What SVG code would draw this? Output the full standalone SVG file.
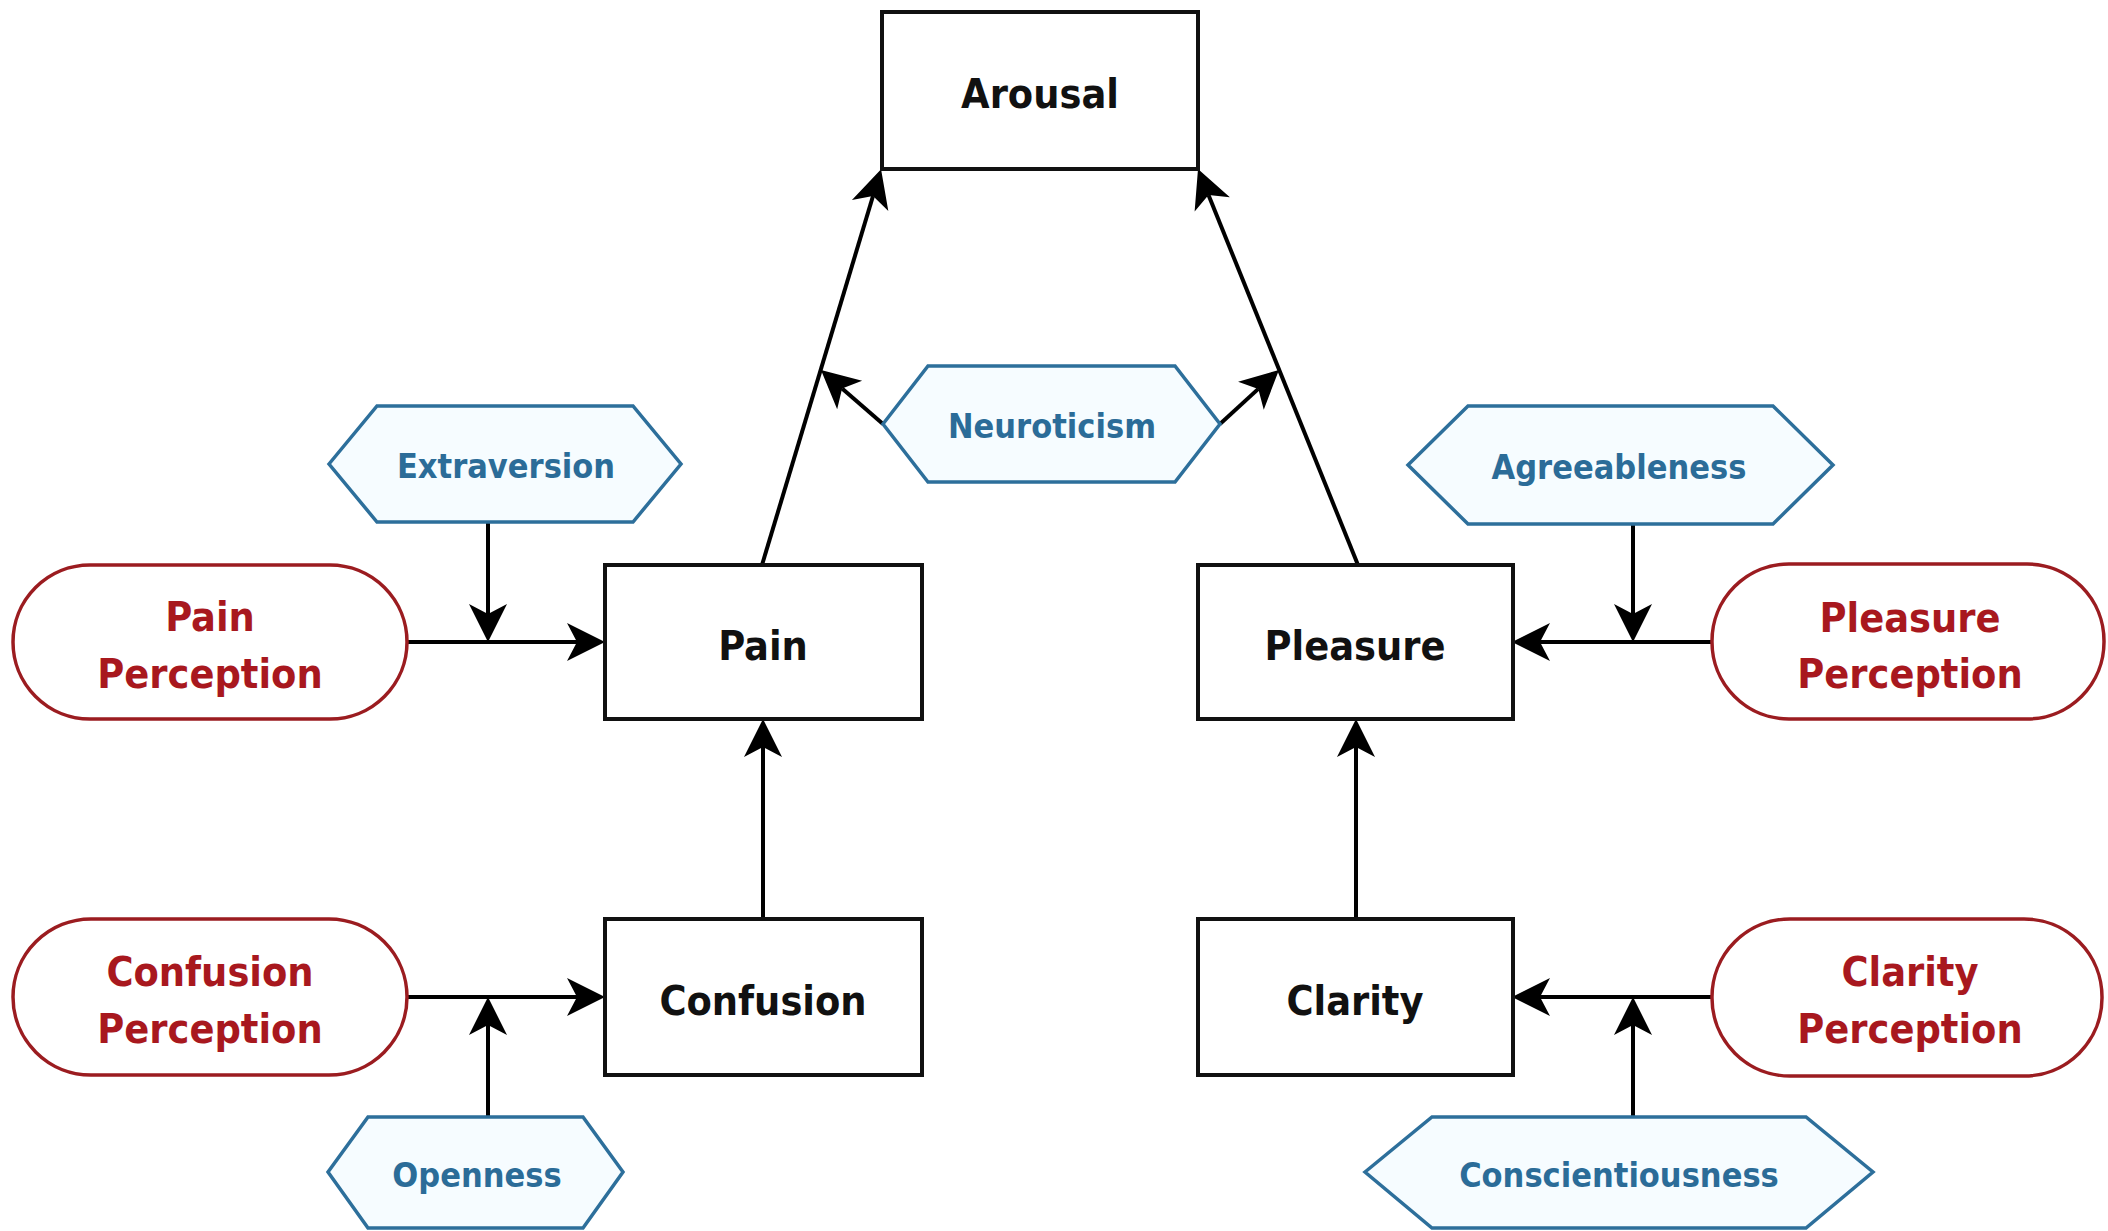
<svg xmlns="http://www.w3.org/2000/svg" width="2108" height="1231" viewBox="0 0 2108 1231">
<style>
.box{fill:#fff;stroke:#111;stroke-width:4}
.pill{fill:#fff;stroke:#9b1c20;stroke-width:3.5}
.hex{fill:#f6fcff;stroke:#2d6f9b;stroke-width:3.5;stroke-linejoin:miter}
.t{font-family:"DejaVu Sans Condensed","DejaVu Sans",sans-serif;font-stretch:condensed;font-weight:bold;text-anchor:middle}
.blk{font-size:41px;fill:#111}
.red{font-size:41px;fill:#a8181e}
.blu{font-size:34px;fill:#2b6c98}
.edge{fill:none;stroke:#000;stroke-width:4;marker-end:url(#ah)}
</style>
<defs>
<marker id="ah" markerUnits="userSpaceOnUse" markerWidth="42" markerHeight="42" viewBox="-12 -21 42 42" refX="0" refY="0" orient="auto">
<path d="M28,0 L-10,-19 L0,0 L-10,19 Z" fill="#000"/>
</marker>
</defs>
<rect width="2108" height="1231" fill="#fff"/>
<g id="connectors">
<path class="edge" d="M762,565 L873,196"/>
<path class="edge" d="M1358,565 L1208.5,195"/>
<path class="edge" d="M883,424 L842.1,388.4"/>
<path class="edge" d="M1220,424 L1258.3,388.9"/>
<path class="edge" d="M488,522 L488,614"/>
<path class="edge" d="M407,642 L577,642"/>
<path class="edge" d="M763,919 L763,747"/>
<path class="edge" d="M407,997 L577,997"/>
<path class="edge" d="M488,1117 L488,1025"/>
<path class="edge" d="M1633,524 L1633,614"/>
<path class="edge" d="M1712,642 L1540,642"/>
<path class="edge" d="M1356,919 L1356,747"/>
<path class="edge" d="M1712,997 L1540,997"/>
<path class="edge" d="M1633,1117 L1633,1025"/>
</g>
<g id="arousal"><rect class="box" x="882" y="12" width="316" height="157"/><text class="t blk" x="1040" y="108">Arousal</text></g>
<g id="pain"><rect class="box" x="605" y="565" width="317" height="154"/><text class="t blk" x="763" y="660">Pain</text></g>
<g id="pleasure"><rect class="box" x="1198" y="565" width="315" height="154"/><text class="t blk" x="1355" y="660">Pleasure</text></g>
<g id="confusion"><rect class="box" x="605" y="919" width="317" height="156"/><text class="t blk" x="763" y="1015">Confusion</text></g>
<g id="clarity"><rect class="box" x="1198" y="919" width="315" height="156"/><text class="t blk" x="1355" y="1015">Clarity</text></g>
<g id="pain-perception"><rect class="pill" x="13" y="565" width="394" height="154" rx="77"/><text class="t red" x="210" y="631">Pain</text><text class="t red" x="210" y="688">Perception</text></g>
<g id="confusion-perception"><rect class="pill" x="13" y="919" width="394" height="156" rx="78"/><text class="t red" x="210" y="986">Confusion</text><text class="t red" x="210" y="1043">Perception</text></g>
<g id="pleasure-perception"><rect class="pill" x="1712" y="564" width="392" height="155" rx="77"/><text class="t red" x="1910" y="632">Pleasure</text><text class="t red" x="1910" y="688">Perception</text></g>
<g id="clarity-perception"><rect class="pill" x="1712" y="919" width="390" height="157" rx="78"/><text class="t red" x="1910" y="986">Clarity</text><text class="t red" x="1910" y="1043">Perception</text></g>
<g id="extraversion"><polygon class="hex" points="329,464 377,406 633,406 681,464 633,522 377,522"/><text class="t blu" x="506" y="478">Extraversion</text></g>
<g id="neuroticism"><polygon class="hex" points="883,424 928,366 1175,366 1220,424 1175,482 928,482"/><text class="t blu" x="1052" y="438">Neuroticism</text></g>
<g id="agreeableness"><polygon class="hex" points="1408,465 1468,406 1773,406 1833,465 1773,524 1468,524"/><text class="t blu" x="1619" y="479">Agreeableness</text></g>
<g id="openness"><polygon class="hex" points="328,1172 368,1117 583,1117 623,1172 583,1228 368,1228"/><text class="t blu" x="477" y="1187">Openness</text></g>
<g id="conscientiousness"><polygon class="hex" points="1365,1172 1432,1117 1806,1117 1873,1172 1806,1228 1432,1228"/><text class="t blu" x="1619" y="1187">Conscientiousness</text></g>
</svg>
